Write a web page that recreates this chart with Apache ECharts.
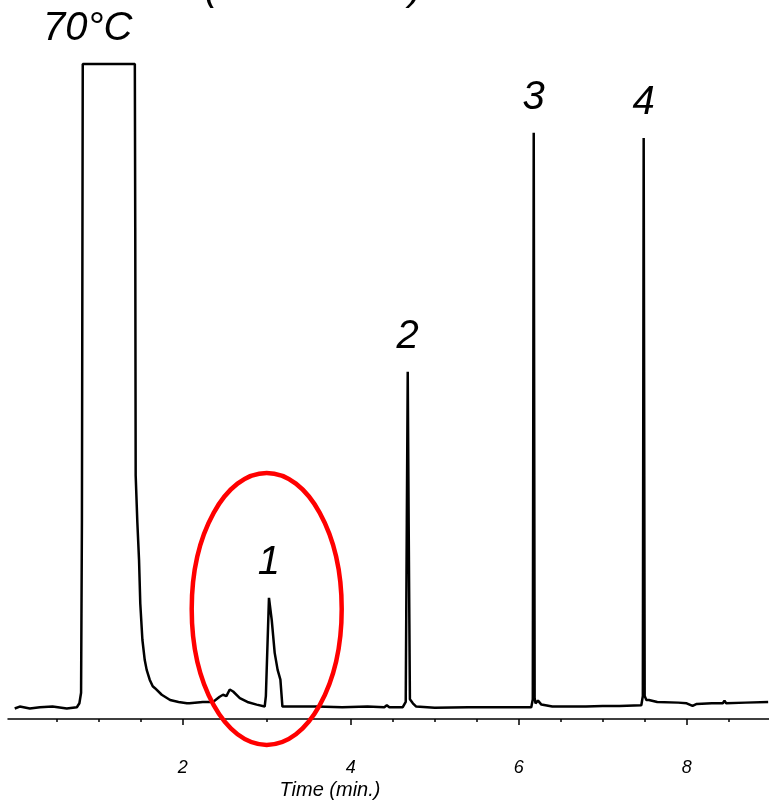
<!DOCTYPE html>
<html>
<head>
<meta charset="utf-8">
<script src="https://cdn.jsdelivr.net/npm/echarts@6/dist/echarts.min.js"></script>
<style>
  html, body { margin: 0; padding: 0; background: #ffffff; }
  #chart { width: 769px; height: 805px; }
</style>
</head>
<body>
<div id="chart"></div>
<script>
// Chromatogram trace: retention time (min) and detector signal (arb. units, 100 = detector ceiling)
const timeMin = [
  0.00, 0.06, 0.18, 0.30, 0.45, 0.62, 0.74, 0.77, 0.79, 0.80, 0.81,
  1.43, 1.435, 1.44, 1.46, 1.48, 1.495, 1.52, 1.548, 1.571, 1.607, 1.643, 1.67, 1.69, 1.75, 1.85, 1.95, 2.05,
  2.08, 2.24, 2.36, 2.44, 2.48, 2.52, 2.56, 2.60, 2.68, 2.77, 2.88, 2.976,
  2.99, 3.027, 3.06, 3.095, 3.13, 3.163, 3.187, 3.27,
  3.60, 3.90, 4.20, 4.40, 4.43, 4.46, 4.62,
  4.655, 4.668, 4.679, 4.690, 4.705, 4.74, 4.78,
  5.00, 5.40, 5.80, 6.15,
  6.168, 6.179, 6.19, 6.20, 6.23, 6.27, 6.40,
  6.60, 6.80, 7.00, 7.20, 7.46,
  7.478, 7.488, 7.50, 7.52, 7.55, 7.65,
  7.90, 8.00, 8.07, 8.12, 8.30, 8.43, 8.45, 8.47, 8.70, 8.97
];
const signal = [
  1.6, 1.9, 1.6, 1.8, 1.9, 1.6, 1.8, 2.4, 4.0, 30.0, 100,
  100, 75.0, 37.2, 30.0, 24.3, 17.6, 12.1, 9.0, 7.5, 6.0, 5.0, 4.7, 4.4, 3.7, 2.9, 2.6, 2.4,
  2.4, 2.6, 2.6, 3.4, 3.7, 3.5, 4.5, 4.2, 3.2, 2.6, 2.2, 1.9,
  3.5, 18.5, 15.1, 10.1, 7.5, 6.0, 1.9, 1.9,
  1.9, 1.8, 1.9, 1.8, 2.1, 1.8, 1.8,
  2.6, 30.0, 53.0, 30.0, 3.0, 2.4, 1.9,
  1.7, 1.8, 1.8, 1.8,
  3.0, 89.5, 3.2, 2.4, 2.8, 2.2, 1.9,
  1.9, 1.9, 2.0, 2.0, 2.1,
  3.5, 88.7, 3.5, 2.9, 2.9, 2.6,
  2.5, 2.4, 2.0, 2.3, 2.4, 2.4, 2.8, 2.4, 2.5, 2.6
];

// Axis ticks
const minorTicks = [0.5, 1, 1.5, 2, 2.5, 3, 3.5, 4, 4.5, 5, 5.5, 6, 6.5, 7, 7.5, 8, 8.5];
const majorTicks = [2, 4, 6, 8];
const axisTitle = 'Time (min.)';

// Peak annotations
const peakNames = ['70°C', '1', '2', '3', '4'];
const peakTimes = [1.12, 3.027, 4.679, 6.179, 7.488];
const peakHeights = [100, 18.5, 53.0, 89.5, 88.7];

// Highlighted region around peak 1
const highlight = { time: 3.0, level: 16.8, rx: 75, ry: 136 };

const FONT = '"Liberation Sans", Arial, Helvetica, sans-serif';
const trace = timeMin.map((t, i) => [t, signal[i]]);

const chart = echarts.init(document.getElementById('chart'), null, { renderer: 'canvas' });

const xBase = { type: 'value', min: -0.08, max: 8.98, splitLine: { show: false } };

chart.setOption({
  animation: false,
  backgroundColor: '#ffffff',
  grid: { left: 8, right: 0, top: 64, bottom: 86 },
  xAxis: [
    Object.assign({}, xBase, {
      axisLine: { show: true, lineStyle: { color: '#000', width: 1.5 } },
      axisTick: { show: true, customValues: minorTicks, length: 3, lineStyle: { color: '#000', width: 1.5 } },
      axisLabel: { show: false }
    }),
    Object.assign({}, xBase, {
      position: 'bottom',
      axisLine: { show: false },
      axisTick: { show: true, customValues: majorTicks, length: 6, lineStyle: { color: '#000', width: 1.5 } },
      axisLabel: {
        show: true, customValues: majorTicks, margin: 40,
        fontSize: 18, fontStyle: 'italic', color: '#000', fontFamily: FONT
      }
    })
  ],
  yAxis: { type: 'value', min: 0, max: 100, show: false },
  series: [
    {
      type: 'line',
      data: trace,
      symbol: 'none',
      showSymbol: false,
      clip: false,
      lineStyle: { color: '#000', width: 2.5 },
      silent: true
    },
    {
      type: 'scatter',
      symbolSize: 0,
      silent: true,
      itemStyle: { opacity: 1, color: '#000' },
      data: peakTimes.map((t, i) => ({
        value: [t, peakHeights[i]],
        label: i === 0 ? { offset: [-21, 0] } : {}
      })),
      label: {
        show: true,
        position: 'top',
        distance: 15,
        formatter: p => peakNames[p.dataIndex],
        fontSize: 40,
        fontStyle: 'italic',
        color: '#000',
        opacity: 1,
        fontFamily: FONT
      }
    }
  ]
});

const c = chart.convertToPixel({ xAxisIndex: 0, yAxisIndex: 0 }, [highlight.time, highlight.level]);

chart.setOption({
  graphic: [
    {
      type: 'ellipse',
      shape: { cx: c[0], cy: c[1], rx: highlight.rx, ry: highlight.ry },
      style: { fill: 'none', stroke: '#ff0000', lineWidth: 4.5 },
      z: 10,
      silent: true
    },
    {
      type: 'text', x: 330, y: 790,
      style: { text: axisTitle, font: 'italic 20px ' + FONT, fill: '#000', align: 'center', verticalAlign: 'middle' }
    },
    {
      type: 'text', x: 211, y: -11,
      style: { text: '(', font: 'italic 40px ' + FONT, fill: '#000', align: 'center', verticalAlign: 'middle' }
    },
    {
      type: 'text', x: 416, y: -11,
      style: { text: ')', font: 'italic 40px ' + FONT, fill: '#000', align: 'center', verticalAlign: 'middle' }
    }
  ]
});
</script>
</body>
</html>
